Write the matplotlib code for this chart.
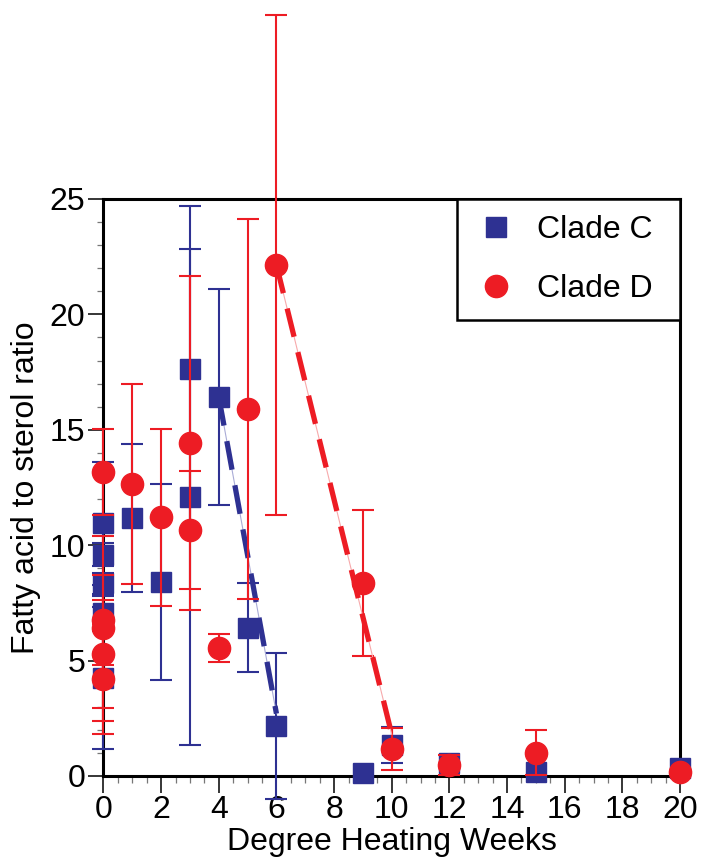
import matplotlib
matplotlib.use("Agg")
import matplotlib.pyplot as plt
from matplotlib.lines import Line2D
from matplotlib.ticker import MultipleLocator

plt.rcParams['font.family'] = ['Liberation Sans', 'DejaVu Sans']

# Clade C data
c_x = [0, 0, 0, 0, 0, 1, 2, 3, 3, 4, 5, 6, 9, 10, 12, 15, 20]
c_y = [10.95, 9.58, 8.35, 7.05, 4.23, 11.18, 8.40, 17.63, 12.09, 16.42, 6.43, 2.17, 0.13, 1.34, 0.56, 0.19, 0.35]
c_err = [2.67, 0.50, 0.45, 0.75, 3.07, 3.19, 4.25, 7.07, 10.75, 4.68, 1.93, 3.15, 0, 0.77, 0, 0, 0]

# Clade D data
d_x = [0, 0, 0, 0, 0, 1, 2, 3, 3, 4, 5, 6, 9, 10, 12, 15, 20]
d_y = [13.16, 6.75, 6.40, 5.30, 4.20, 12.65, 11.20, 14.43, 10.66, 5.55, 15.90, 22.14, 8.35, 1.16, 0.48, 1.01, 0.19]
d_err = [1.86, 1.96, 4.00, 2.34, 2.40, 4.35, 3.83, 7.25, 2.55, 0.60, 8.25, 10.85, 3.17, 0.90, 0.44, 0.98, 0]

# Fitted decline lines
c_fit_x = [4, 6]
c_fit_y = [16.42, 2.7]
d_fit_x = [6, 10]
d_fit_y = [22.14, 1.8]

x_ticks = [0, 2, 4, 6, 8, 10, 12, 14, 16, 18, 20]
y_ticks = [0, 5, 10, 15, 20, 25]

BLUE = '#2E3192'
RED = '#ED1C24'
BLUE_L = '#A9ABD6'
RED_L = '#F7A9AB'
FS = 23

fig = plt.figure(figsize=(7.02, 8.67), dpi=100)
ax = fig.add_axes([0.1474, 0.1050, 0.8213, 0.6655])
ax.set_xlim(0, 20)
ax.set_ylim(0, 25)

def errs(xs, ys, es):
    sel = [i for i in range(len(xs)) if es[i] > 0]
    return [xs[i] for i in sel], [ys[i] for i in sel], [es[i] for i in sel]

def unclip(eb):
    for a in eb.lines[1]:
        a.set_clip_on(False)
    for a in eb.lines[2]:
        a.set_clip_on(False)

# Clade C error bars
ex, ey, ee = errs(c_x, c_y, c_err)
eb = ax.errorbar(ex, ey, yerr=ee, fmt='none', ecolor=BLUE, elinewidth=1.5,
                 capsize=8, capthick=1.5, zorder=3)
unclip(eb)

# Clade C fit line
ax.plot(c_fit_x, c_fit_y, color=BLUE_L, lw=0.8, zorder=4, clip_on=False)
ax.plot(c_fit_x, c_fit_y, color=BLUE, lw=3.8, dashes=(5.5, 3.0), zorder=4, clip_on=False)

ax.plot(c_x, c_y, linestyle='none', marker='s', markersize=14, color=BLUE,
        markeredgecolor=BLUE, zorder=5, clip_on=False)

# Clade D error bars
ex, ey, ee = errs(d_x, d_y, d_err)
eb2 = ax.errorbar(ex, ey, yerr=ee, fmt='none', ecolor=RED, elinewidth=1.5,
                  capsize=8, capthick=1.5, zorder=6)
unclip(eb2)

ax.plot(d_fit_x, d_fit_y, color=RED_L, lw=0.8, zorder=7, clip_on=False)
ax.plot(d_fit_x, d_fit_y, color=RED, lw=3.8, dashes=(5.5, 3.0), zorder=7, clip_on=False)

ax.plot(d_x, d_y, linestyle='none', marker='o', markersize=16, color=RED,
        markeredgecolor=RED, zorder=8, clip_on=False)

# Axes styling
for s in ax.spines.values():
    s.set_linewidth(2.2)
    s.set_zorder(2)
ax.set_xticks(x_ticks)
ax.set_yticks(y_ticks)
ax.xaxis.set_minor_locator(MultipleLocator(0.5))
ax.yaxis.set_minor_locator(MultipleLocator(1))
ax.tick_params(axis='x', which='major', length=12, width=1.1, direction='out', labelsize=FS, pad=2)
ax.tick_params(axis='x', which='minor', length=5, width=0.9, direction='out', color='#777777')
ax.tick_params(axis='y', which='major', length=11, width=1.1, direction='out', labelsize=FS, pad=2)
ax.tick_params(axis='y', which='minor', length=4, width=0.9, direction='out', color='#777777')
ax.tick_params(top=False, right=False, which='both')

ax.set_xlabel('Degree Heating Weeks', fontsize=FS, labelpad=1)
ax.set_ylabel('Fatty acid to sterol ratio', fontsize=FS, labelpad=6)

handles = [
    Line2D([], [], linestyle='none', marker='s', markersize=14, color=BLUE),
    Line2D([], [], linestyle='none', marker='o', markersize=16, color=RED),
]
leg = ax.legend(handles, ['Clade C', 'Clade D'], loc='upper left',
                bbox_to_anchor=(0.613, 0.0, 0.387, 1.0), mode='expand',
                borderaxespad=0, fontsize=FS, frameon=True, fancybox=False,
                edgecolor='black', framealpha=1, borderpad=0.5,
                labelspacing=0.92, handlelength=1.45, handletextpad=0.56)
leg.get_frame().set_linewidth(1.8)
leg.set_zorder(10)

fig.savefig('out.png', dpi=100)
